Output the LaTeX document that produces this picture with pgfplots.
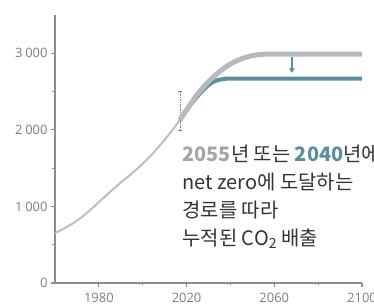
\documentclass[border=0pt]{standalone}
\usepackage{fontspec}
\setmainfont{Open Sans}
\newfontfamily\kr{Noto Sans CJK KR}
\usepackage{pgfplots}
\pgfplotsset{compat=1.18}
\usetikzlibrary{arrows.meta}
\definecolor{axgray}{HTML}{8C8C8E}
\definecolor{lblgray}{HTML}{7E7E80}
\definecolor{histgray}{HTML}{BDBEC2}
\definecolor{pathgray}{HTML}{B7B9BD}
\definecolor{myteal}{HTML}{5B8F9E}
\definecolor{txtgray}{HTML}{A3A5A9}
\definecolor{txtdark}{HTML}{333333}
\begin{document}
\begin{tikzpicture}
\begin{axis}[name=ax, scale only axis, width=307bp, height=268bp,
  xmin=1960, xmax=2100, ymin=0, ymax=3500,
  axis x line*=bottom, axis y line*=left,
  xtick={1980,2020,2060,2100}, minor xtick={2000,2040,2080},
  ytick={0,1000,2000,3000}, minor ytick={500,1500,2500},
  tick align=outside, major tick length=4bp, minor tick length=2.5bp,
  /pgf/number format/assume math mode=true,
  x tick label style={/pgf/number format/1000 sep={}, yshift=-3bp},
  y tick label style={/pgf/number format/1000 sep={\hspace{0.22em}}},
  ticklabel style={font=\fontsize{13}{15}\selectfont, text=lblgray},
  axis line style={axgray, line width=1.6bp},
  every tick/.style={axgray, line width=1.2bp},
  clip=false,
]
% historical
\addplot[histgray, line width=2bp, smooth] coordinates {
(1960,652)(1965,726)(1970,813)(1975,926)(1980,1057)(1985,1187)(1990,1313)
(1995,1430)(2000,1557)(2005,1704)(2010,1870)(2015,2052)(2018,2174)};
% uncertainty bar
\addplot[gray, densely dotted, line width=0.7bp] coordinates {(2017,2000)(2017,2500)};
\addplot[gray, line width=0.7bp] coordinates {(2016,2500)(2018.1,2500)};
\addplot[gray, line width=0.7bp] coordinates {(2016,2000)(2018.1,2000)};
% 2040 path
\addplot[myteal, line width=4bp, smooth] coordinates {
(2017,2130)(2020,2255)(2023,2370)(2026,2470)(2029,2560)(2032,2625)(2035,2655)
(2038,2665)(2041,2668)(2100,2668)};
% 2055 path
\addplot[pathgray, line width=5bp, smooth] coordinates {
(2017,2130)(2020,2262)(2025,2465)(2030,2630)(2035,2760)(2040,2860)(2045,2928)
(2050,2970)(2055,2986)(2060,2990)(2100,2990)};
\draw[myteal, line width=1.4bp, -{Triangle[length=4.5bp,width=5.5bp]}]
  (axis cs:2068,2945) -- (axis cs:2068,2745);
\end{axis}
\node[anchor=base west, align=left, font=\kr\fontsize{20}{28}\selectfont, text=txtdark]
  at ([xshift=124bp, yshift=38bp]ax.south west)
  {{\bfseries\color{txtgray}2055}년 또는 {\bfseries\color{myteal}2040}년에\\
   net zero에 도달하는\\
   경로를 따라\\
   누적된 CO\textsubscript{2} 배출};
\pgfresetboundingbox
\path[use as bounding box] ([xshift=-55bp,yshift=-25bp]ax.south west) rectangle ++(374bp,308bp);
\end{tikzpicture}
\end{document}
